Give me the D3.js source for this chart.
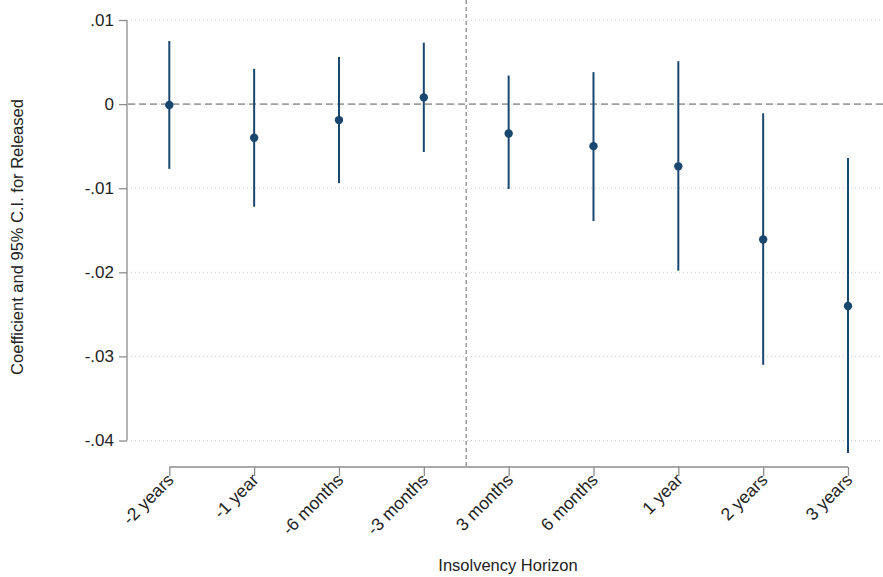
<!DOCTYPE html>
<html>
<head>
<meta charset="utf-8">
<script src="https://cdn.jsdelivr.net/npm/d3@7"></script>
<style>
  body { margin: 0; background: #fff; }
  text { font-family: "Liberation Sans", Arial, sans-serif; fill: #222; }
</style>
</head>
<body>
<div id="chart"></div>
<script>
// horizons, point estimates and 95% CI bounds
var horizons = ['-2 years', '-1 year', '-6 months', '-3 months',
   '3 months', '6 months', '1 year', '2 years', '3 years'];
var coef  = [-0.0001, -0.0040, -0.0019, 0.0008, -0.0035, -0.0050, -0.0074, -0.0161, -0.0240];
var ciLow = [-0.0077, -0.0122, -0.0094, -0.0057, -0.0101, -0.0139, -0.0198, -0.0310, -0.0415];
var ciHigh = [0.0075, 0.0042, 0.0056, 0.0073, 0.0034, 0.0038, 0.0051, -0.0011, -0.0064];
var yTicks = [0.01, 0, -0.01, -0.02, -0.03, -0.04];
var yTickLabels = ['.01', '0', '-.01', '-.02', '-.03', '-.04'];

var W = 883, H = 577;
var NAVY = '#1a476f';
var FONT = '"Liberation Sans", Arial, sans-serif';

var svg = d3.select('#chart').append('svg')
   .attr('width', W)
   .attr('height', H);

// scales
var x = d3.scaleLinear().domain([0, horizons.length - 1]).range([169.3, 848]);
var y = d3.scaleLinear().domain([0.01, -0.04]).range([20, 440.5]);

var axisX0 = 127;   // y axis position
var axisY0 = 467;   // x axis position

// dotted gridlines (incl. zero, under the dashed line)
svg.append('g').selectAll('line')
   .data(yTicks)
   .enter().append('line')
   .attr('x1', axisX0 + 4).attr('x2', W)
   .attr('y1', function(d){ return y(d); })
   .attr('y2', function(d){ return y(d); })
   .attr('stroke', '#c8c8c8')
   .attr('stroke-width', 1)
   .attr('stroke-dasharray', '1,3');

// zero line
svg.append('line')
   .attr('x1', axisX0 + 1).attr('x2', W)
   .attr('y1', y(0)).attr('y2', y(0))
   .attr('stroke', '#a0a0a0')
   .attr('stroke-width', 1.6)
   .attr('stroke-dasharray', '7,4');

// vertical line between pre and post horizons
svg.append('line')
   .attr('x1', x(3.5)).attr('x2', x(3.5))
   .attr('y1', 0).attr('y2', axisY0)
   .attr('stroke', '#a0a0a0')
   .attr('stroke-width', 1.6)
   .attr('stroke-dasharray', '4,3');

// y axis
var yAxis = d3.axisLeft(y)
   .tickValues(yTicks)
   .tickFormat(function(d, i){ return yTickLabels[i]; })
   .tickSize(8)
   .tickPadding(5);

var gy = svg.append('g')
   .attr('transform', 'translate(' + axisX0 + ',0)')
   .call(yAxis);
gy.select('.domain').attr('d', 'M0,' + y(0.01) + 'V' + y(-0.04)).attr('stroke', '#8c8c8c').attr('stroke-width', 1.3);
gy.selectAll('.tick line').attr('stroke', '#8c8c8c').attr('stroke-width', 1.3);
gy.selectAll('.tick text')
   .attr('font-size', 17)
   .attr('fill', '#222')
   .attr('font-family', FONT);

// x axis
var xAxis = d3.axisBottom(x)
   .tickValues(d3.range(horizons.length))
   .tickFormat(function(d){ return horizons[d]; })
   .tickSize(9);

var gx = svg.append('g')
   .attr('transform', 'translate(0,' + axisY0 + ')')
   .call(xAxis);
gx.select('.domain').attr('d', 'M' + x(0) + ',0H' + x(horizons.length - 1)).attr('stroke', '#8c8c8c').attr('stroke-width', 1.3);
gx.selectAll('.tick line').attr('stroke', '#8c8c8c').attr('stroke-width', 1.3);
gx.selectAll('.tick text')
   .attr('font-size', 17.5)
   .attr('fill', '#222')
   .attr('font-family', FONT)
   .attr('text-anchor', 'end')
   .attr('dy', null)
   .attr('transform', 'translate(5,14) rotate(-45)')
   .attr('y', 0)
   .attr('x', 0);

// confidence intervals
svg.append('g').selectAll('line')
   .data(horizons)
   .enter().append('line')
   .attr('x1', function(d, i){ return x(i); })
   .attr('x2', function(d, i){ return x(i); })
   .attr('y1', function(d, i){ return y(ciHigh[i]); })
   .attr('y2', function(d, i){ return y(ciLow[i]); })
   .attr('stroke', NAVY)
   .attr('stroke-width', 2);

// point estimates
svg.append('g').selectAll('circle')
   .data(coef)
   .enter().append('circle')
   .attr('cx', function(d, i){ return x(i); })
   .attr('cy', function(d){ return y(d); })
   .attr('r', 4.2)
   .attr('fill', NAVY);

// axis titles
svg.append('text')
   .attr('transform', 'translate(23,237) rotate(-90)')
   .attr('text-anchor', 'middle')
   .attr('font-size', 16.5)
   .text('Coefficient and 95% C.I. for Released');

svg.append('text')
   .attr('x', 508)
   .attr('y', 571)
   .attr('text-anchor', 'middle')
   .attr('font-size', 16.5)
   .text('Insolvency Horizon');
</script>
</body>
</html>
